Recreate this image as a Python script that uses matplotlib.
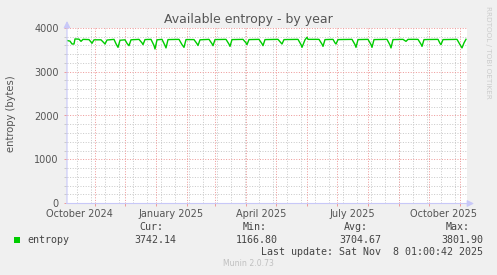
import matplotlib
matplotlib.use("Agg")
import matplotlib.pyplot as plt
import matplotlib.dates as mdates
import pandas as pd
from matplotlib.patches import Rectangle, FancyArrowPatch

# ---------------- data ----------------
start_date = "2024-10-04 01:00"
end_date = "2025-11-08 01:00"
day_offsets = [0, 3, 5, 7, 8, 12, 14, 16, 22, 24, 25, 27, 34, 37, 38, 40, 47, 49, 51, 53,
               58, 60, 62, 64, 72, 75, 76, 78, 84, 87, 88, 90, 95, 98, 99, 101, 112, 115, 117, 119,
               127, 130, 131, 133, 142, 145, 146, 148, 159, 162, 163, 165, 176, 179, 180, 182,
               192, 195, 196, 198, 211, 214, 215, 217, 231, 234, 235, 238, 240, 241,
               252, 255, 256, 258, 266, 268, 269, 271, 285, 288, 289, 291, 301, 304, 305, 307,
               320, 323, 324, 326, 336, 338, 339, 341, 351, 354, 355, 357, 371, 373, 374, 376,
               390, 393, 395, 397, 399]
entropy = [3715, 3700, 3634, 3634, 3750, 3745, 3695, 3740, 3735, 3680, 3650, 3730, 3730, 3660, 3634, 3725, 3740, 3640, 3558, 3720,
           3730, 3650, 3596, 3730, 3740, 3660, 3620, 3735, 3740, 3600, 3520, 3730, 3740, 3600, 3545, 3735, 3740, 3620, 3558, 3735,
           3735, 3640, 3600, 3730, 3740, 3640, 3596, 3735, 3740, 3630, 3580, 3735, 3740, 3660, 3620, 3735,
           3740, 3640, 3596, 3735, 3740, 3660, 3634, 3735, 3740, 3620, 3558, 3730, 3787, 3740,
           3740, 3630, 3580, 3735, 3740, 3660, 3634, 3735, 3740, 3620, 3558, 3735, 3740, 3620, 3558, 3735,
           3740, 3610, 3545, 3735, 3740, 3710, 3695, 3740, 3740, 3630, 3580, 3735, 3740, 3650, 3620, 3735,
           3740, 3620, 3545, 3660, 3742]
legend_headers = ["Cur:", "Min:", "Avg:", "Max:"]
legend_values = ["3742.14", "1166.80", "3704.67", "3801.90"]
series_name = "entropy"
title = "Available entropy - by year"
ylabel = "entropy (bytes)"
last_update = "Last update: Sat Nov  8 01:00:42 2025"
footer = "Munin 2.0.73"
watermark = "RRDTOOL / TOBI OETIKER"

# ---------------- figure ----------------
W, H = 497, 275
fig = plt.figure(figsize=(W / 100, H / 100), dpi=100, facecolor="#F0F0F0")

def fx(x):
    return x / W

def fy(y):
    return 1 - y / H

ax = fig.add_axes([fx(67), fy(203), 400 / W, 175 / H])
ax.set_facecolor("white")

t0 = pd.Timestamp(start_date)
t1 = pd.Timestamp(end_date)
dates = t0 + pd.to_timedelta(day_offsets, unit="D")

ax.set_xlim(t0, t1)
ax.set_ylim(0, 4000)

minor_c = "#cacaca"
major_c = "#ee9a9a"
dot = (0, (1, 1.6))

# y grid
ax.yaxis.set_major_locator(matplotlib.ticker.MultipleLocator(1000))
ax.yaxis.set_minor_locator(matplotlib.ticker.MultipleLocator(200))
for v in range(200, 4001, 200):
    if v % 1000:
        ax.axhline(v, color=minor_c, lw=0.72, ls=dot, zorder=1)
for v in range(1000, 4001, 1000):
    ax.axhline(v, color=major_c, lw=0.72, ls=dot, zorder=1.5)

# x grid: biweekly minor, monthly major
wk = mdates.WeekdayLocator(byweekday=mdates.MO, interval=2)
for d in wk.tick_values(t0, t1):
    ax.axvline(d, color=minor_c, lw=0.72, ls=dot, zorder=1)
mon = mdates.MonthLocator()
for d in mon.tick_values(t0, t1):
    ax.axvline(d, color=major_c, lw=0.72, ls=dot, zorder=1.5)

ax.xaxis.set_major_locator(mdates.MonthLocator())
ax.xaxis.set_major_formatter(matplotlib.ticker.NullFormatter())
ax.xaxis.set_minor_locator(mdates.MonthLocator(bymonth=[1, 4, 7, 10], bymonthday=16))
ax.xaxis.set_minor_formatter(mdates.DateFormatter("%B %Y"))

ax.tick_params(axis="x", which="major", length=2, color=major_c, width=0.7)
ax.tick_params(axis="x", which="minor", length=0, pad=4.6, labelsize=7, labelcolor="#555555")
ax.tick_params(axis="y", which="major", length=2, color=major_c, width=0.7,
               labelsize=7, labelcolor="#555555", pad=4)
ax.tick_params(axis="y", which="minor", length=2, color=minor_c, width=0.7)

for s in ax.spines.values():
    s.set_visible(False)

# data line
ax.plot(dates, entropy, color="#00CC00", lw=1.0, zorder=3, solid_joinstyle="round")

# axis lines with arrows
axis_c = "#C8C8F8"
arrow = "-|>,head_length=0.4,head_width=0.2"
fig.add_artist(FancyArrowPatch((fx(66.5), fy(203.5)), (fx(474), fy(203.5)),
                               transform=fig.transFigure, arrowstyle=arrow,
                               color=axis_c, lw=0.8, mutation_scale=10, shrinkA=0, shrinkB=0))
fig.add_artist(FancyArrowPatch((fx(67), fy(203.5)), (fx(67), fy(21)),
                               transform=fig.transFigure, arrowstyle=arrow,
                               color=axis_c, lw=0.8, mutation_scale=10, shrinkA=0, shrinkB=0))

# texts
fig.text(fx(248.5), fy(19.5), title, ha="center", va="center", fontsize=9, color="#555555")
fig.text(fx(11), fy(114), ylabel, ha="center", va="center", rotation=90, fontsize=7.2, color="#555555")
fig.text(fx(488), fy(52), watermark, ha="center", va="center", rotation=270, fontsize=5.2, color="#cccccc")

mono = "DejaVu Sans Mono"
txt_c = "#444444"
head_x = [163, 267, 368, 470]
val_x = [176, 278, 381, 483]
for hx, h in zip(head_x, legend_headers):
    fig.text(fx(hx), fy(227), h, ha="right", va="center", family=mono, fontsize=7.2, color=txt_c)
for vx, v in zip(val_x, legend_values):
    fig.text(fx(vx), fy(240), v, ha="right", va="center", family=mono, fontsize=7.2, color=txt_c)
fig.add_artist(Rectangle((fx(14), fy(243)), 6 / W, 6 / H, transform=fig.transFigure,
                         facecolor="#00CC00", edgecolor="none"))
fig.text(fx(27), fy(240), series_name, ha="left", va="center", family=mono, fontsize=7.2, color=txt_c)
fig.text(fx(483), fy(252), last_update, ha="right", va="center", family=mono, fontsize=7.2, color=txt_c)
fig.text(fx(248.5), fy(264), footer, ha="center", va="center", fontsize=5.6, color="#c0c0c0")

fig.savefig("out.png", dpi=100, facecolor=fig.get_facecolor())
